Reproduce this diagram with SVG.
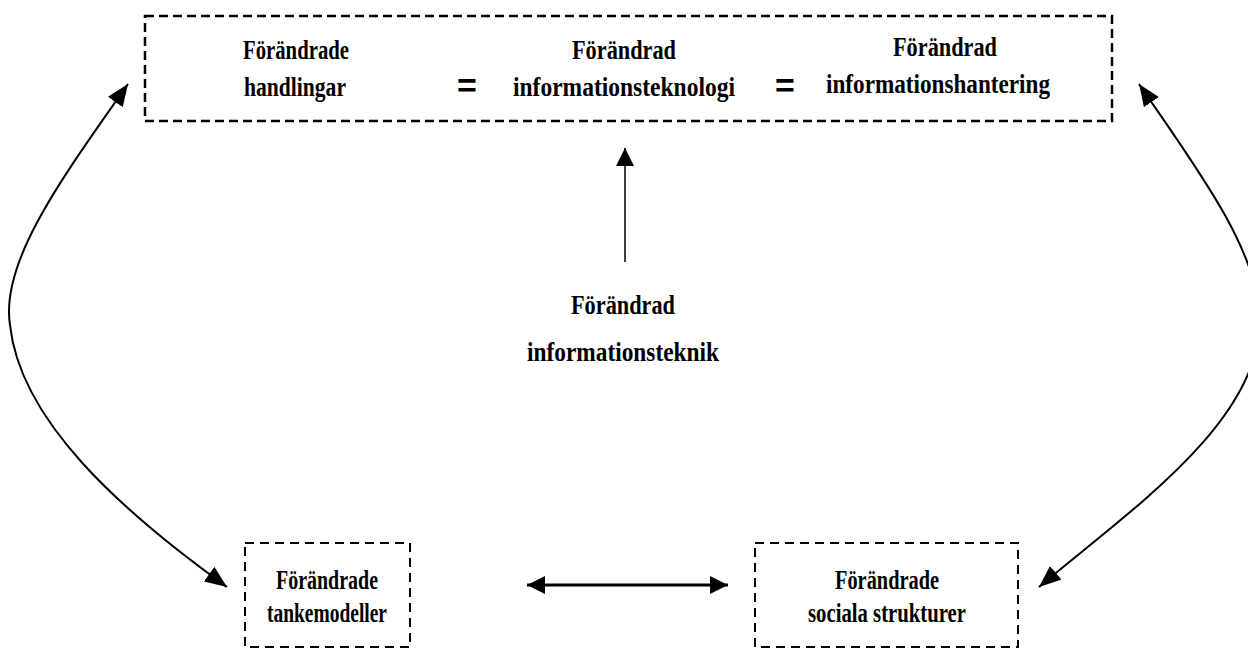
<svg xmlns="http://www.w3.org/2000/svg" width="1248" height="649" viewBox="0 0 1248 649">
  <style>
    .box { fill: none; stroke: #000; stroke-width: 2.5; stroke-dasharray: 9 5; }
    .sbox { fill: none; stroke: #000; stroke-width: 2; stroke-dasharray: 9 6; }
    .lbl { font-family: "Liberation Serif", "Times New Roman", serif; font-weight: bold; font-size: 28px; fill: #000; text-anchor: middle; }
    .eq { font-family: "Liberation Sans", Arial, sans-serif; font-weight: bold; font-size: 34px; fill: #000; text-anchor: middle; }
    .conn { fill: none; stroke: #000; stroke-width: 2; }
  </style>
  <defs>
    <marker id="ah" markerUnits="userSpaceOnUse" markerWidth="24" markerHeight="20" refX="22" refY="9" orient="auto-start-reverse" viewBox="0 0 24 20">
      <path d="M0,0 L22,9 L0,18 z" fill="#000"/>
    </marker>
    <marker id="ahs" markerUnits="userSpaceOnUse" markerWidth="20" markerHeight="20" refX="18" refY="9" orient="auto-start-reverse" viewBox="0 0 20 20">
      <path d="M0,0 L18,9 L0,18 z" fill="#000"/>
    </marker>
  </defs>
  <rect width="1248" height="649" fill="#fff"/>

  <g id="top-box">
    <rect class="box" x="145" y="16" width="967" height="105"/>
    <text class="lbl" x="296" y="59" textLength="106" lengthAdjust="spacingAndGlyphs">Förändrade</text>
    <text class="lbl" x="295" y="96" textLength="102" lengthAdjust="spacingAndGlyphs">handlingar</text>
    <text class="eq" x="467" y="97">=</text>
    <text class="lbl" x="624" y="59" textLength="104" lengthAdjust="spacingAndGlyphs">Förändrad</text>
    <text class="lbl" x="624" y="96" textLength="222" lengthAdjust="spacingAndGlyphs">informationsteknologi</text>
    <text class="eq" x="785" y="97">=</text>
    <text class="lbl" x="945" y="56" textLength="104" lengthAdjust="spacingAndGlyphs">Förändrad</text>
    <text class="lbl" x="938" y="93" textLength="224" lengthAdjust="spacingAndGlyphs">informationshantering</text>
  </g>

  <g id="mid-node">
    <text class="lbl" x="623" y="314" textLength="104" lengthAdjust="spacingAndGlyphs">Förändrad</text>
    <text class="lbl" x="623" y="361" textLength="192" lengthAdjust="spacingAndGlyphs">informationsteknik</text>
  </g>

  <g id="left-box">
    <rect class="sbox" x="245" y="543" width="165" height="104"/>
    <text class="lbl" x="327" y="589" textLength="102" lengthAdjust="spacingAndGlyphs">Förändrade</text>
    <text class="lbl" x="327" y="622" textLength="120" lengthAdjust="spacingAndGlyphs">tankemodeller</text>
  </g>

  <g id="right-box">
    <rect class="sbox" x="755" y="543" width="263" height="104"/>
    <text class="lbl" x="887" y="589" textLength="104" lengthAdjust="spacingAndGlyphs">Förändrade</text>
    <text class="lbl" x="887" y="622" textLength="158" lengthAdjust="spacingAndGlyphs">sociala strukturer</text>
  </g>

  <g id="connectors">
    <path class="conn" d="M625,262 L625,148" marker-end="url(#ahs)" style="stroke-width:1.5"/>
    <path class="conn" d="M527,585 L728,585" marker-start="url(#ahs)" marker-end="url(#ahs)" style="stroke-width:3"/>
    <path class="conn" d="M128,84 C62,178 0,262 10,325 C20,420 120,510 227,587" marker-start="url(#ah)" marker-end="url(#ah)"/>
    <path class="conn" d="M1139,84 C1195,166 1255,245 1260,315 C1264,420 1130,510 1039,587" marker-start="url(#ah)" marker-end="url(#ah)"/>
  </g>
</svg>
